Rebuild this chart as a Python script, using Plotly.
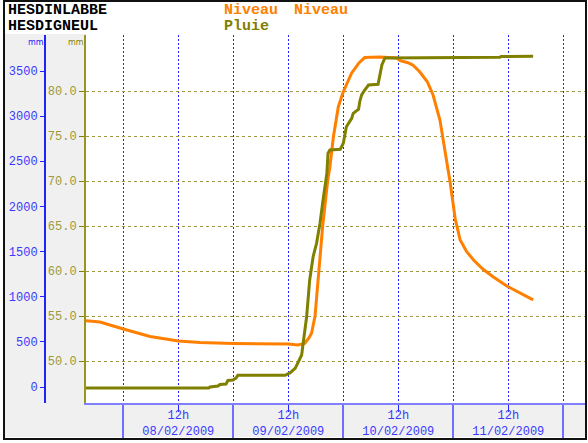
import plotly.graph_objects as go

# ---------------- data ----------------
niveau_time = [
    "2009-02-07 15:52", "2009-02-07 18:55", "2009-02-08 00:00", "2009-02-08 05:50",
    "2009-02-08 12:00", "2009-02-08 16:45", "2009-02-09 00:00", "2009-02-09 12:00",
    "2009-02-09 14:05", "2009-02-09 15:35", "2009-02-09 16:30", "2009-02-09 17:05",
    "2009-02-09 17:50", "2009-02-09 18:45", "2009-02-09 19:30", "2009-02-09 20:35",
    "2009-02-09 21:05", "2009-02-09 21:50", "2009-02-09 22:55", "2009-02-10 00:00",
    "2009-02-10 01:50", "2009-02-10 03:25", "2009-02-10 04:40", "2009-02-10 08:00",
    "2009-02-10 11:40", "2009-02-10 12:25", "2009-02-10 14:05", "2009-02-10 15:10",
    "2009-02-10 16:40", "2009-02-10 18:20", "2009-02-10 19:35", "2009-02-10 21:05",
    "2009-02-10 22:10", "2009-02-10 23:20", "2009-02-11 00:25", "2009-02-11 01:30",
    "2009-02-11 02:55", "2009-02-11 04:25", "2009-02-11 06:30", "2009-02-11 08:40",
    "2009-02-11 11:40", "2009-02-11 14:35", "2009-02-11 17:05", "2009-02-11 17:25",
]
niveau_mm = [
    735, 720, 642, 559,
    509, 493, 482, 476,
    465, 482, 543, 598,
    786, 1285, 1783, 2282,
    2440, 2769, 3105, 3271,
    3478, 3589, 3649, 3655,
    3644, 3614, 3592, 3566,
    3492, 3381, 3234, 2957,
    2625, 2259, 1861, 1628,
    1499, 1407, 1304, 1222,
    1119, 1038, 971, 965,
]

pluie_time = [
    "2009-02-07 15:52", "2009-02-08 18:40", "2009-02-08 18:55", "2009-02-08 20:40",
    "2009-02-08 21:05", "2009-02-08 22:25", "2009-02-08 22:50", "2009-02-08 23:55",
    "2009-02-09 00:35", "2009-02-09 01:00", "2009-02-09 11:20", "2009-02-09 12:25",
    "2009-02-09 13:30", "2009-02-09 14:05", "2009-02-09 14:55", "2009-02-09 15:20",
    "2009-02-09 16:00", "2009-02-09 16:40", "2009-02-09 17:25", "2009-02-09 18:10",
    "2009-02-09 18:55", "2009-02-09 19:35", "2009-02-09 20:25", "2009-02-09 20:40",
    "2009-02-09 21:05", "2009-02-09 23:20", "2009-02-10 00:00", "2009-02-10 00:40",
    "2009-02-10 01:05", "2009-02-10 01:50", "2009-02-10 02:10", "2009-02-10 03:20",
    "2009-02-10 03:35", "2009-02-10 04:00", "2009-02-10 04:40", "2009-02-10 05:30",
    "2009-02-10 07:35", "2009-02-10 08:00", "2009-02-10 08:25", "2009-02-10 09:05",
    "2009-02-11 10:10", "2009-02-11 10:25", "2009-02-11 17:25",
]
pluie_mm = [
    47.0, 47.0, 47.11, 47.22,
    47.39, 47.44, 47.83, 47.89,
    48.1, 48.41, 48.41, 48.7,
    49.19, 49.74, 50.67, 52.33,
    54.92, 59.0, 61.59, 63.08,
    65.3, 67.89, 70.86, 73.08,
    73.44, 73.52, 74.19, 76.03,
    76.41, 76.97, 77.52, 77.97,
    78.81, 79.56, 80.11, 80.67,
    80.74, 81.97, 82.89, 83.67,
    83.74, 83.83, 83.86,
]

x_tickvals = ["2009-02-08 12:00", "2009-02-09 12:00", "2009-02-10 12:00", "2009-02-11 12:00"]
x_ticktext = ["12h<br>08/02/2009", "12h<br>09/02/2009", "12h<br>10/02/2009", "12h<br>11/02/2009"]
day_ticks = ["2009-02-08", "2009-02-09", "2009-02-10", "2009-02-11", "2009-02-12"]
niveau_ticks = [0, 500, 1000, 1500, 2000, 2500, 3000, 3500]
pluie_ticks = [50, 55, 60, 65, 70, 75, 80]

# ---------------- style ----------------
W, H = 588, 443
L, R, T, B = 45, 3, 35, 40
PW, PH = W - L - R, H - T - B
MONO = "Liberation Mono, Courier New, monospace"
ORANGE = "#ff8000"
OLIVE = "#808000"
OLIVE_TXT = "#9c9a3c"
BLUE = "#2222ff"
BLUE_TXT = "#3a3aff"


def px(xp):
    return (xp - L) / PW


def py(yp):
    return (H - B - yp) / PH


fig = go.Figure()
fig.add_trace(go.Scatter(x=niveau_time, y=niveau_mm, mode="lines",
                         line=dict(color=ORANGE, width=3), yaxis="y", hoverinfo="skip"))
fig.add_trace(go.Scatter(x=pluie_time, y=pluie_mm, mode="lines",
                         line=dict(color=OLIVE, width=3), yaxis="y2", hoverinfo="skip"))

fig.update_layout(
    width=W, height=H, autosize=False,
    margin=dict(l=L, r=R, t=T, b=B, pad=0, autoexpand=False),
    paper_bgcolor="white", plot_bgcolor="white",
    showlegend=False,
    xaxis=dict(
        type="date", domain=[px(86), 1], automargin=False,
        range=["2009-02-07 15:51:45", "2009-02-12 04:44"],
        tickmode="array", tickvals=x_tickvals, ticktext=x_ticktext,
        tickfont=dict(family=MONO, size=12, color=BLUE_TXT),
        ticks="outside", ticklen=7, tickcolor=BLUE, tickwidth=1,
        ticklabelstandoff=-7,
        showline=True, linecolor="#8080ff", linewidth=2,
        showgrid=True, gridcolor=BLUE, gridwidth=1, griddash="2px,2px",
        minor=dict(tickmode="array", tickvals=day_ticks,
                   ticks="outside", ticklen=35, tickcolor="#6f6fff", tickwidth=2,
                   showgrid=True, gridcolor=BLUE, gridwidth=1, griddash="2px,2px"),
        zeroline=False, fixedrange=True,
    ),
    yaxis=dict(
        anchor="free", position=0, side="left", automargin=False,
        range=[-177.2, 3898.7],
        tickmode="array", tickvals=niveau_ticks,
        tickfont=dict(family=MONO, size=12, color=BLUE_TXT),
        ticks="outside", ticklen=4, tickcolor=BLUE,
        showline=True, linecolor=BLUE, linewidth=2,
        showgrid=False, zeroline=False, fixedrange=True,
    ),
    yaxis2=dict(
        overlaying="y", anchor="x", side="left", automargin=False,
        range=[45.333, 86.222],
        tickmode="array", tickvals=pluie_ticks, tickformat=".1f",
        tickfont=dict(family=MONO, size=12, color=OLIVE_TXT),
        ticks="outside", ticklen=5, tickcolor=OLIVE,
        showline=True, linecolor="#9a9420", linewidth=2,
        showgrid=True, gridcolor="#9c9a3c", gridwidth=1, griddash="3px,3px",
        zeroline=False, fixedrange=True,
    ),
)

shapes = [
    dict(type="rect", xref="paper", yref="paper", x0=px(5), x1=px(86), y0=py(437), y1=py(34),
         fillcolor="#f0f0f0", line=dict(width=0), layer="below"),
    dict(type="rect", xref="paper", yref="paper", x0=px(86), x1=px(586), y0=py(437), y1=py(403),
         fillcolor="#f0f0f0", line=dict(width=0), layer="below"),
    dict(type="rect", xref="paper", yref="paper", x0=px(4), x1=px(586), y0=py(439), y1=py(1),
         line=dict(color="#111111", width=2), layer="above"),
]
fig.update_layout(shapes=shapes)

annotations = [
    dict(text="<b>HESDINLABBE</b>", x=px(6), y=py(10), font=dict(family=MONO, size=15, color="black")),
    dict(text="<b>HESDIGNEUL</b>", x=px(6), y=py(26), font=dict(family=MONO, size=15, color="black")),
    dict(text="<b>Niveau</b>", x=px(222), y=py(10), font=dict(family=MONO, size=15, color=ORANGE)),
    dict(text="<b>Niveau</b>", x=px(292), y=py(10), font=dict(family=MONO, size=15, color=ORANGE)),
    dict(text="<b>Pluie</b>", x=px(222), y=py(26), font=dict(family=MONO, size=15, color=OLIVE)),
    dict(text="mm", x=px(26), y=py(43), font=dict(family="DejaVu Sans", size=8, color=BLUE)),
    dict(text="mm", x=px(66), y=py(43), font=dict(family="DejaVu Sans", size=8, color=OLIVE)),
]
for a in annotations:
    a.update(xref="paper", yref="paper", xanchor="left", yanchor="middle", showarrow=False)
fig.update_layout(annotations=annotations)

fig.write_html("out.html", config={"displayModeBar": False, "responsive": False},
               post_script="document.body.style.margin='0';document.body.style.overflow='hidden';")
